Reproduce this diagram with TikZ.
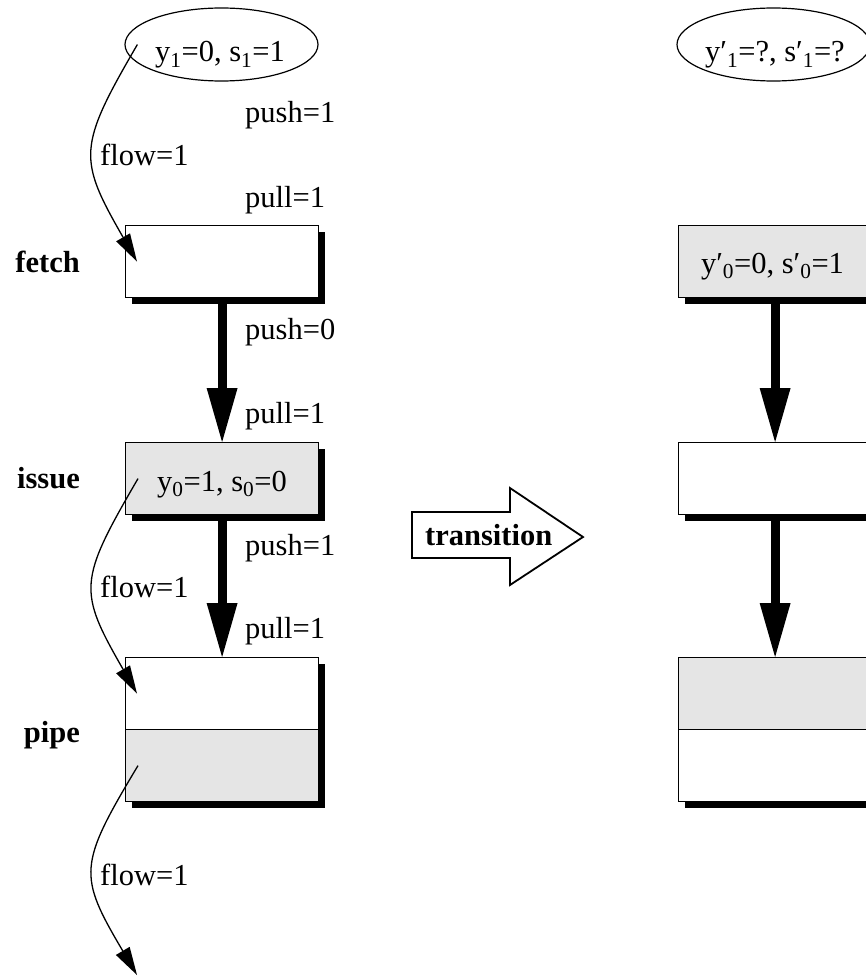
\documentclass[tikz,border=0pt]{standalone}
\usepackage{fontspec}
\setmainfont{Liberation Serif}
\usetikzlibrary{arrows.meta,shapes.geometric,shadows}
\definecolor{boxgrey}{HTML}{E5E5E5}
\begin{document}
\begin{tikzpicture}[x=1pt,y=-1pt,
  lbl/.style={font=\fontsize{30.5}{36}\selectfont, inner sep=0pt},
  blbl/.style={font=\fontsize{30.5}{36}\selectfont\bfseries, inner sep=0pt},
  stagebox/.style={draw=black, line width=1.2pt, fill=white, minimum width=193pt,
    minimum height=72pt, inner sep=0pt, anchor=north west,
    drop shadow={shadow xshift=6pt, shadow yshift=-6pt, opacity=1, fill=black}},
  greybox/.style={stagebox, fill=boxgrey},
  stateell/.style={draw=black, line width=1.2pt, ellipse, minimum width=193pt,
    minimum height=73pt, inner sep=0pt},
  flowarrow/.style={line width=1.3pt, -{Triangle[length=28pt,width=16pt,line width=0pt]}},
  thickarrow/.style={line width=9pt, -{Triangle[length=54pt,width=31pt,line width=0pt]}},
  transarrow/.style={draw=black, line width=1.8pt, fill=white, line join=miter}
]
\useasboundingbox (0,0) rectangle (866,979);

% ---------------- left column ----------------
\node[stateell] (s1) at (221.5,44.5) {};
\node[lbl, anchor=base] (s1t) at (220,62) {y\textsubscript{1}=0, s\textsubscript{1}=1};

\node[stagebox] (fetch) at (125,225) {};
\node[greybox] (issue) at (125,442) {};
\node[lbl, anchor=base] (issuet) at (222,491) {y\textsubscript{0}=1, s\textsubscript{0}=0};
\node[stagebox] (pipeA) at (125,657) {};
\node[greybox] (pipeB) at (125,729) {};

\node[blbl, anchor=base east] (lfetch) at (80,272) {fetch};
\node[blbl, anchor=base east] (lissue) at (80,488) {issue};
\node[blbl, anchor=base east] (lpipe) at (80,742) {pipe};

\draw[thickarrow] (fetch.south) -- (issue.north);
\draw[thickarrow] (issue.south) -- (pipeA.north);

\node[lbl, anchor=base west] (push1) at (245,123) {push=1};
\node[lbl, anchor=base west] (pull1) at (245,207) {pull=1};
\node[lbl, anchor=base west] (push2) at (245,339) {push=0};
\node[lbl, anchor=base west] (pull2) at (245,423) {pull=1};
\node[lbl, anchor=base west] (push3) at (245,555) {push=1};
\node[lbl, anchor=base west] (pull3) at (245,638) {pull=1};

\coordinate (f1s) at ([shift={(13,0)}]s1.west);
\coordinate (f1e) at ([shift={(12,0)}]fetch.west);
\coordinate (f2s) at ([shift={(13,0)}]issue.west);
\coordinate (f2e) at ([shift={(12,0)}]pipeA.west);
\coordinate (f3s) at ([shift={(13,0)}]pipeB.west);
\coordinate (f3e) at (137,975);

\draw[flowarrow] (f1s) .. controls +(-60,103) and +(-59,-103) .. (f1e);
\draw[flowarrow] (f2s) .. controls +(-60,103) and +(-59,-103) .. (f2e);
\draw[flowarrow] (f3s) .. controls +(-60,100) and +(-59,-100) .. (f3e);

\node[lbl, anchor=base west] (flow1) at (100,165) {flow=1};
\node[lbl, anchor=base west] (flow2) at (100,597) {flow=1};
\node[lbl, anchor=base west] (flow3) at (100,885) {flow=1};

% ---------------- transition ----------------
\draw[transarrow] (412,512) -- (510,512) -- (510,488) -- (583,537) -- (510,585)
  -- (510,558) -- (412,558) -- cycle;
\node[blbl, anchor=base west] (trans) at (425,545) {transition};

% ---------------- right column ----------------
\node[stateell] (r1) at (773.5,44.5) {};
\node[lbl, anchor=base] (r1t) at (775,62) {y′\textsubscript{1}=?, s′\textsubscript{1}=?};

\node[greybox] (rfetch) at (678,225) {};
\node[lbl, anchor=base] (rfetcht) at (772.5,273) {y′\textsubscript{0}=0, s′\textsubscript{0}=1};
\node[stagebox] (rissue) at (678,442) {};
\node[greybox] (rpipeA) at (678,657) {};
\node[stagebox] (rpipeB) at (678,729) {};

\draw[thickarrow] (rfetch.south) -- (rissue.north);
\draw[thickarrow] (rissue.south) -- (rpipeA.north);
\end{tikzpicture}
\end{document}
